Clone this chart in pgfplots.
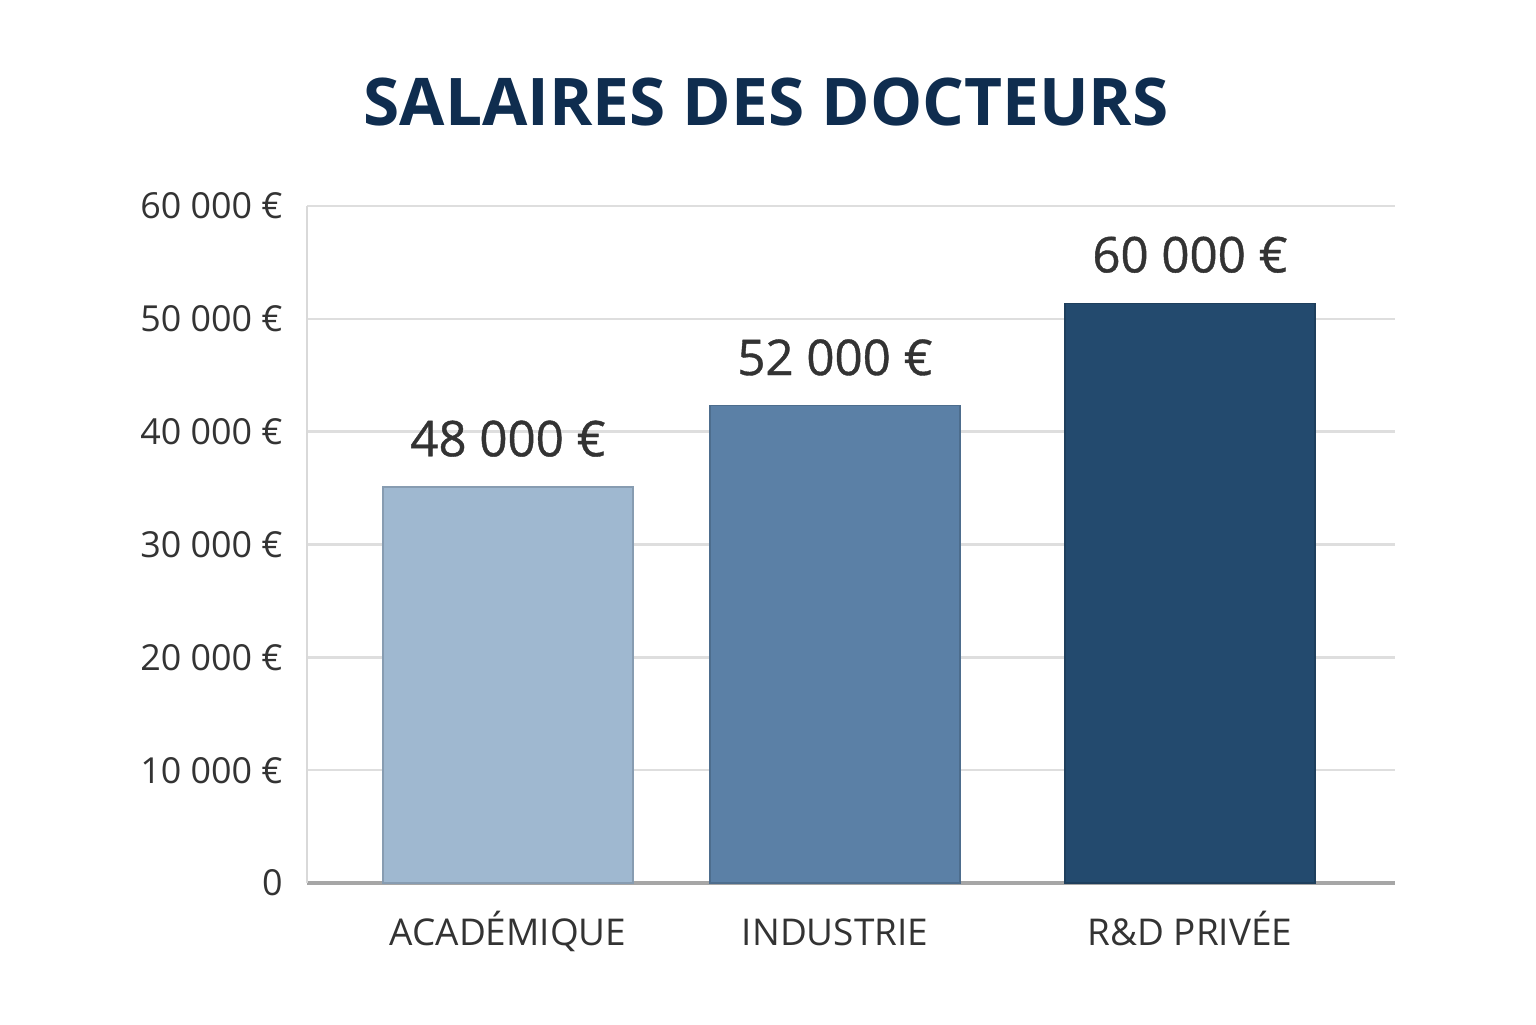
\documentclass[border=0pt]{standalone}
\usepackage{pgfplots}
\pgfplotsset{compat=1.18}
\usepackage{fontspec}
\setmainfont{Open Sans}
\definecolor{titleblue}{HTML}{0F2D4F}
\definecolor{cA}{HTML}{9FB8D0}
\definecolor{cB}{HTML}{5B80A6}
\definecolor{cC}{HTML}{234A6E}
\definecolor{txt}{HTML}{333333}
\definecolor{gridc}{HTML}{DEDEDE}
\begin{document}
\begin{tikzpicture}[x=1cm,y=1cm]
\begin{axis}[
  scale only axis,
  width=10.88cm, height=6.77cm,
  xmin=0, xmax=1088, ymin=0, ymax=60000,
  scaled y ticks=false,
  axis x line*=bottom,
  axis y line*=left,
  x axis line style={draw=black!35, line width=1.2pt},
  y axis line style={draw=black!15, line width=0.8pt},
  ymajorgrids, grid style={draw=gridc, line width=0.7pt},
  major tick length=0pt,
  xtick={201,528,883},
  xticklabels={ACADÉMIQUE,INDUSTRIE,R\&D PRIVÉE},
  ytick={0,10000,20000,30000,40000,50000,60000},
  yticklabels={0,10 000 €,20 000 €,30 000 €,40 000 €,50 000 €,60 000 €},
  /pgf/number format/assume math mode=true,
  xticklabel style={font=\fontsize{10.5}{12}\selectfont, text=txt, anchor=base, yshift=-0.62cm},
  yticklabel style={font=\fontsize{10.2}{12}\selectfont, text=txt, xshift=-0.12cm},
  ybar, bar width=250, bar shift=0pt,
  nodes near coords,
  point meta=explicit symbolic,
  every node near coord/.append style={font=\fontsize{14}{16}\selectfont\addfontfeature{FakeBold=0.8}, text=txt, yshift=0.18cm},
  clip=false,
]
\addplot[fill=cA, draw=cA!85!black, line width=0.3pt] coordinates {(201,35100) [48 000 €]};
\addplot[fill=cB, draw=cB!85!black, line width=0.3pt] coordinates {(528,42300) [52 000 €]};
\addplot[fill=cC, draw=cC!85!black, line width=0.3pt] coordinates {(883,51400) [60 000 €]};
\end{axis}
\node[font=\fontsize{18.7}{22}\selectfont\bfseries, text=titleblue] at (4.59,7.81) {SALAIRES DES DOCTEURS};
\path[use as bounding box] (-3.07,-1.41) rectangle (12.29,8.83);
\end{tikzpicture}
\end{document}
